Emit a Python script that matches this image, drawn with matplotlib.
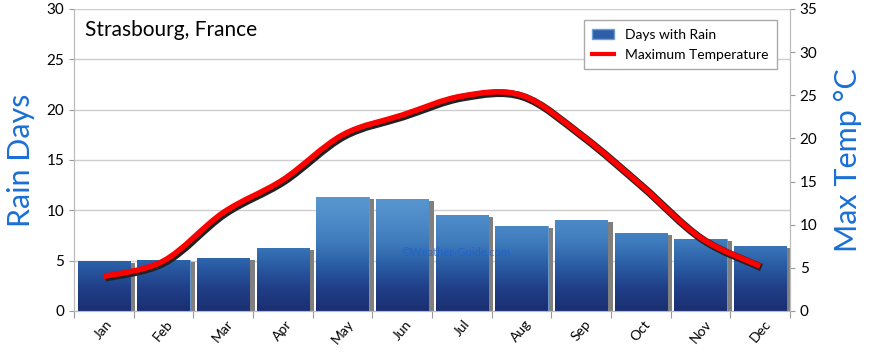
import matplotlib.pyplot as plt
import matplotlib.patheffects as pe
from matplotlib.path import Path
from matplotlib.patches import PathPatch, Patch
from matplotlib.lines import Line2D
from matplotlib.colors import LinearSegmentedColormap
import numpy as np

months = ['Jan', 'Feb', 'Mar', 'Apr', 'May', 'Jun', 'Jul', 'Aug', 'Sep', 'Oct', 'Nov', 'Dec']
rain_days = [5.0, 5.1, 5.3, 6.3, 11.3, 11.1, 9.5, 8.4, 9.0, 7.7, 7.2, 6.5]
max_temp = [4.0, 5.8, 11.4, 15.2, 20.4, 22.7, 24.9, 25.0, 20.4, 14.6, 8.5, 5.2]

plt.rcParams['font.family'] = ['Lato', 'DejaVu Sans']

fig = plt.figure(figsize=(8.7, 3.52), dpi=100)
ax = fig.add_axes([0.085, 0.1165, 0.823, 0.858])
ax2 = ax.twinx()

x = np.arange(len(months))
w = 0.88

# shadow behind bars
ax.bar(x + 0.09, [v - 0.2 for v in rain_days], width=w, bottom=0, color='#7f7f7f', zorder=2)
bars = ax.bar(x, rain_days, width=w, color='#2f5ea8', edgecolor='#6d9fd4', linewidth=0.6, zorder=3)

# vertical gradient inside each bar
grad = np.linspace(0, 1, 256).reshape(-1, 1)
cmap = LinearSegmentedColormap.from_list('rain', ['#1b2f72', '#203f88', '#2a5ea6', '#3f7cbd', '#4d8cc8', '#5a98d0'])
for b in bars:
    bx = b.get_x()
    bw = b.get_width()
    im = ax.imshow(grad, extent=[bx, bx + bw, 0, 11.5], origin='lower', cmap=cmap,
                   aspect='auto', zorder=3.5)
    im.set_clip_path(b)

ax.set_xlim(-0.5, 11.5)
ax.set_ylim(0, 30)
ax.set_yticks(range(0, 31, 5))
ax2.set_ylim(0, 35)
ax2.set_yticks(range(0, 36, 5))

# smooth temperature line (Catmull-Rom through the monthly values)
pts = np.column_stack([x, max_temp])
verts = [tuple(pts[0])]
codes = [Path.MOVETO]
for i in range(len(pts) - 1):
    p0 = pts[max(i - 1, 0)]
    p1 = pts[i]
    p2 = pts[i + 1]
    p3 = pts[min(i + 2, len(pts) - 1)]
    c1 = p1 + (p2 - p0) / 6
    c2 = p2 - (p3 - p1) / 6
    verts += [tuple(c1), tuple(c2), tuple(p2)]
    codes += [Path.CURVE4] * 3
line = PathPatch(Path(verts, codes), facecolor='none', edgecolor='#ff0000', linewidth=4,
                 capstyle='butt', zorder=5)
line.set_path_effects([pe.Stroke(linewidth=5.5, foreground='#222222', offset=(1, -1)), pe.Normal()])
ax2.add_patch(line)
ax2.set_zorder(ax.get_zorder() + 1)
ax2.patch.set_visible(False)

# grid and spines
ax.yaxis.grid(True, color='#cccccc', linewidth=1)
ax.set_axisbelow(True)
for a in (ax, ax2):
    a.spines['top'].set_visible(False)
    for s in ('left', 'right', 'bottom'):
        a.spines[s].set_color('#bbbbbb')
    a.tick_params(colors='#999999', labelcolor='black', labelsize=11)

ax.set_xticks(np.arange(-0.5, 12, 1))
ax.set_xticklabels([])
ax.set_xticks(x, minor=True)
ax.set_xticklabels(months, minor=True, rotation=50, fontsize=10)
ax.tick_params(axis='x', which='minor', length=0, pad=5)
ax.tick_params(axis='x', which='major', length=5)

ax.set_ylabel('Rain Days', color='#1a6fd6', fontsize=22, labelpad=8)
ax2.set_ylabel('Max Temp °C', color='#1a6fd6', fontsize=22, labelpad=12)

ax.text(0.015, 0.93, 'Strasbourg, France', transform=ax.transAxes, fontsize=15,
        va='center', ha='left', zorder=6)
ax.text(5.9, 5.8, '©Weather-Guide.com', color='#1a5fd0', fontsize=8, alpha=0.7,
        ha='center', va='center', zorder=6)

handles = [Patch(facecolor='#2f5ea8', edgecolor='#6d9fd4'),
           Line2D([0], [0], color='#ff0000', linewidth=3)]
leg = ax2.legend(handles, ['Days with Rain', 'Maximum Temperature'], loc='upper right',
                 bbox_to_anchor=(0.992, 0.985), fancybox=False, edgecolor='#aaaaaa',
                 fontsize=10, handlelength=1.6, borderpad=0.6, labelspacing=0.6, framealpha=1)

fig.savefig('out.png', dpi=100)
